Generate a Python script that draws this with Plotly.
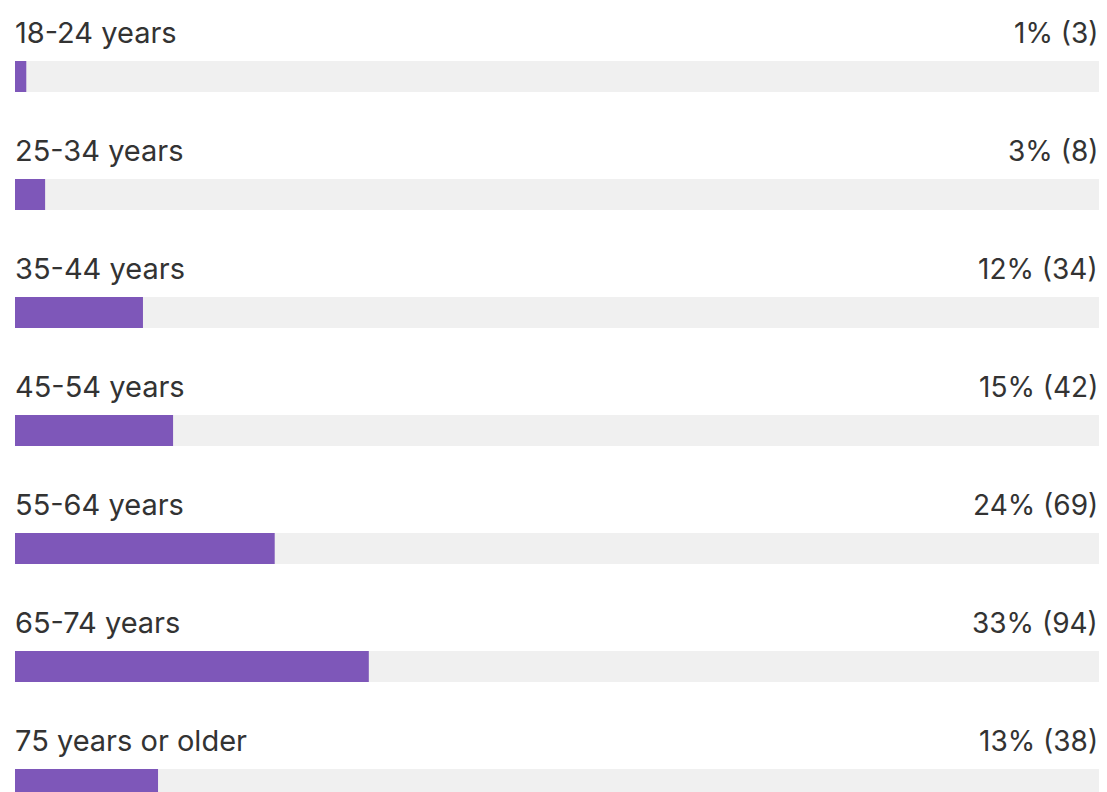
import plotly.graph_objects as go

categories = ["18-24 years", "25-34 years", "35-44 years", "45-54 years",
              "55-64 years", "65-74 years", "75 years or older"]
counts = [3, 8, 34, 42, 69, 94, 38]
percent_labels = ["1%", "3%", "12%", "15%", "24%", "33%", "13%"]

total = sum(counts)
value_labels = [f"{p} ({c})" for p, c in zip(percent_labels, counts)]

BAR = "#7e57b9"
TRACK = "#f0f0f0"
TXT = "#333333"
FONT = "Inter"

# page has an 8px body margin; figure starts at (8, 8)
W, H = 1091, 784
fig = go.Figure()
fig.add_trace(go.Bar(y=categories, x=[total] * len(categories), orientation="h",
                     marker=dict(color=TRACK, line=dict(width=0)), width=0.263,
                     hoverinfo="skip", showlegend=False))
fig.add_trace(go.Bar(y=categories, x=counts, orientation="h",
                     marker=dict(color=BAR, line=dict(width=0)), width=0.263,
                     showlegend=False))

for cat, lab in zip(categories, value_labels):
    fig.add_annotation(x=0, y=cat, xref="x", yref="y", text=cat, showarrow=False,
                       xanchor="left", yanchor="middle", yshift=44, xshift=-2,
                       font=dict(family=FONT, size=29, color=TXT))
    fig.add_annotation(x=total, y=cat, xref="x", yref="y", text=lab, showarrow=False,
                       xanchor="right", yanchor="middle", yshift=44, xshift=1,
                       font=dict(family=FONT, size=28, color=TXT))

top = -68.5 / 118
bottom = (H - 68.5) / 118
fig.update_layout(
    width=W, height=H, barmode="overlay",
    margin=dict(l=7, r=0, t=0, b=0),
    paper_bgcolor="white", plot_bgcolor="white",
    xaxis=dict(range=[0, total], visible=False, fixedrange=True),
    yaxis=dict(type="category", categoryorder="array", categoryarray=categories,
               range=[bottom, top], visible=False, fixedrange=True),
    font=dict(family=FONT, color=TXT),
)

fig.write_html("out.html")
